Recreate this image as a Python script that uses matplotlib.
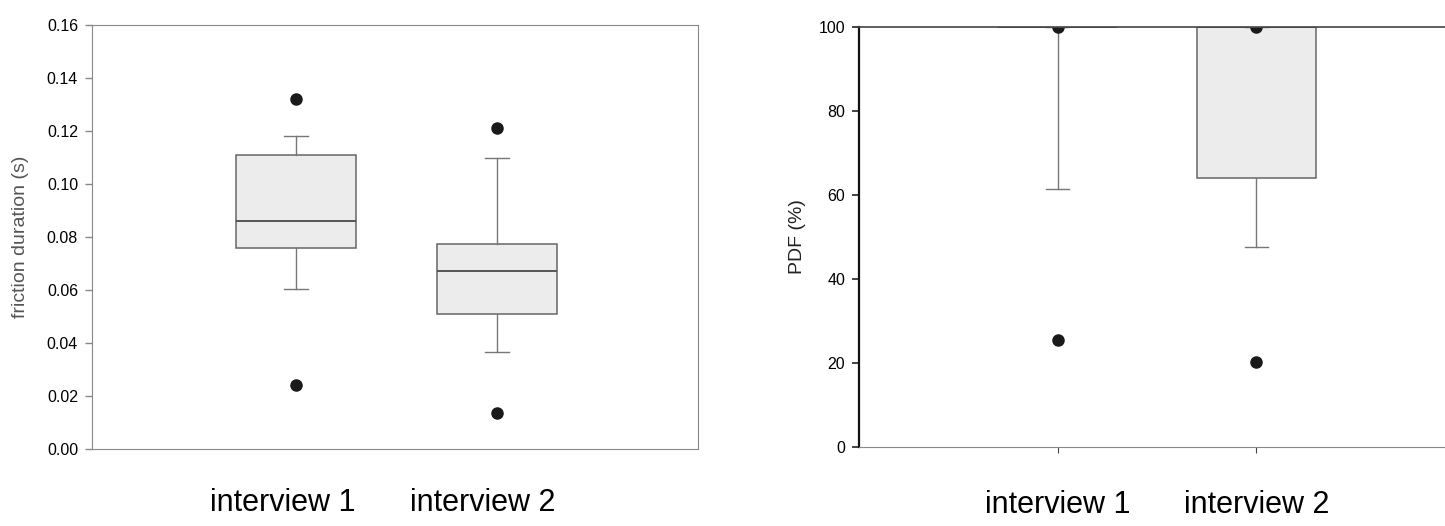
import matplotlib.pyplot as plt

plt.rcParams['font.family'] = ['Liberation Sans', 'DejaVu Sans']

# x categories
groups = ['interview 1', 'interview 2']

# left panel: friction duration (s)
fric_q1 = [0.076, 0.051]
fric_med = [0.086, 0.067]
fric_q3 = [0.111, 0.0775]
fric_lo = [0.0605, 0.0365]
fric_hi = [0.118, 0.110]
fric_out = [[0.132, 0.024], [0.121, 0.0135]]

# right panel: PDF (%)
pdf_q1 = [100, 64]
pdf_med = [100, 100]
pdf_q3 = [100, 100]
pdf_lo = [61.5, 47.5]
pdf_hi = [100, 100]
pdf_out = [[100, 25.5], [100, 20.3]]


def make_stats(q1, med, q3, lo, hi, out):
    stats = []
    for i in range(len(q1)):
        stats.append(dict(q1=q1[i], med=med[i], q3=q3[i],
                          whislo=lo[i], whishi=hi[i], fliers=out[i]))
    return stats


W, H = 1445, 526
fig = plt.figure(figsize=(W / 100, H / 100), dpi=100)

box_kw = dict(positions=[1, 2], widths=0.6, capwidths=0.115, patch_artist=True,
              boxprops=dict(facecolor='#ececec', edgecolor='#666666', linewidth=1.1),
              medianprops=dict(color='#555555', linewidth=1.4),
              whiskerprops=dict(color='#777777', linewidth=1),
              capprops=dict(color='#777777', linewidth=1),
              flierprops=dict(marker='o', markerfacecolor='#1a1a1a',
                              markeredgecolor='#1a1a1a', markersize=8))

# left panel
ax1 = fig.add_axes([92 / W, 1 - 449 / H, (698 - 92) / W, (449 - 25) / H])
ax1.bxp(make_stats(fric_q1, fric_med, fric_q3, fric_lo, fric_hi, fric_out), **box_kw)
ax1.set_xlim(-0.015, 3.0)
ax1.set_ylim(0, 0.16)
ax1.set_yticks([0.00, 0.02, 0.04, 0.06, 0.08, 0.10, 0.12, 0.14, 0.16])
ax1.set_yticklabels(['%.2f' % v for v in ax1.get_yticks()], fontsize=11.5)
ax1.set_xticks([0.935, 1.93])
ax1.set_xticklabels(groups, fontsize=22)
ax1.tick_params(axis='x', length=0, pad=28)
ax1.tick_params(axis='y', length=5, color='#888888', width=1, pad=5)
for s in ax1.spines.values():
    s.set_color('#888888')
ax1.set_ylabel('friction duration (s)', fontsize=14, color='#555555', labelpad=13)

# right panel
ax2 = fig.add_axes([859 / W, 1 - 447 / H, (1455 - 859) / W, (447 - 27) / H])
ax2.bxp(make_stats(pdf_q1, pdf_med, pdf_q3, pdf_lo, pdf_hi, pdf_out), **box_kw)
ax2.set_xlim(0, 3.0)
ax2.set_ylim(0, 100)
ax2.set_yticks([0, 20, 40, 60, 80, 100])
ax2.set_yticklabels(['0', '20', '40', '60', '80', '100'], fontsize=11.5)
ax2.set_xticks([1, 2])
ax2.set_xticklabels(groups, fontsize=22)
ax2.tick_params(axis='x', length=4, color='#444444', pad=27)
ax2.tick_params(axis='y', length=5, color='#222222', width=1.2, pad=5)
ax2.spines['left'].set_color('#111111')
ax2.spines['left'].set_linewidth(1.6)
ax2.spines['bottom'].set_color('#888888')
ax2.spines['top'].set_color('#444444')
ax2.spines['top'].set_linewidth(1.2)
ax2.spines['right'].set_visible(False)
ax2.set_ylabel('PDF (%)', fontsize=14, color='#222222', labelpad=9)

fig.savefig('out.png', dpi=100)
